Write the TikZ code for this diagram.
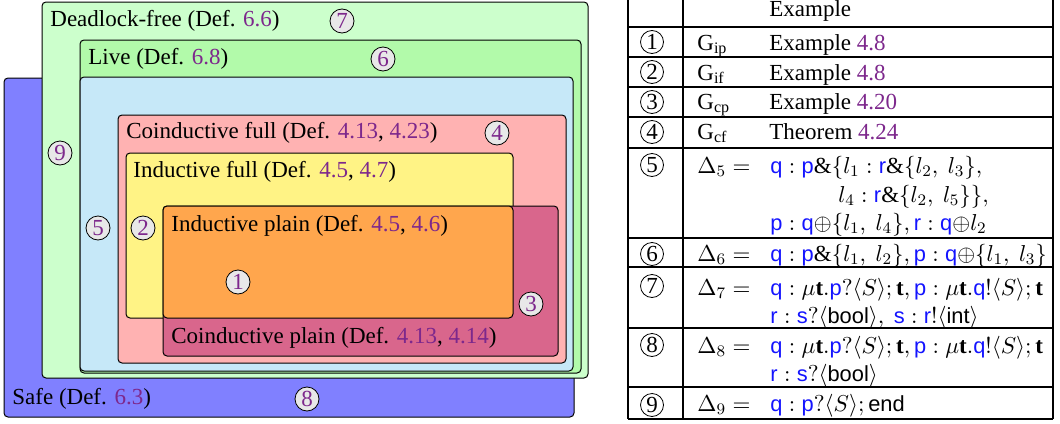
\RequirePackage{fix-cm}
\documentclass[tikz,border=0pt]{standalone}
\usepackage{fontspec}
\setmainfont{Liberation Serif}
\setsansfont[Scale = 0.95]{Liberation Sans}
\usetikzlibrary{positioning}

\definecolor{safeblue}{RGB}{128,128,255}
\definecolor{dlfgreen}{RGB}{204,255,204}
\definecolor{livegreen}{RGB}{178,250,170}
\definecolor{lightsky}{RGB}{198,232,248}
\definecolor{cfpink}{RGB}{255,178,178}
\definecolor{ifyellow}{RGB}{255,243,133}
\definecolor{iporange}{RGB}{255,166,77}
\definecolor{cpmauve}{RGB}{217,102,140}
\definecolor{refpurple}{RGB}{125,40,140}
\definecolor{roleblue}{RGB}{20,20,255}

\newcommand{\dref}[1]{\textcolor{refpurple}{#1}}
\newcommand{\prole}[1]{\textcolor{roleblue}{\textsf{#1}}}

\tikzstyle{region} = [draw, rounded corners = 2pt, line width = 0.5pt]
\tikzstyle{setname} = [anchor = base west, inner sep = 0pt]
\tikzstyle{setnum} = [circle, draw, fill = gray!18, inner sep = 0pt, minimum size = 12pt, text = refpurple]
\tikzstyle{rownum} = [circle, draw, inner sep = 0pt, minimum size = 11.5pt]
\tikzstyle{cell} = [anchor = base west, inner sep = 0pt]

\begin{document}
\begin{tikzpicture}[x = 0.5pt, y = -0.5pt, font = \fontsize{11.5}{14}\selectfont]
        \useasboundingbox (0, 0) rectangle (1060, 423);

        % Regions
        \draw[region, fill = safeblue]  (4, 78)   rectangle (574, 417);
        \draw[region, fill = dlfgreen]  (42, 2)   rectangle (588, 378);
        \draw[region, fill = livegreen] (80, 40)  rectangle (581, 373);
        \draw[region, fill = lightsky]  (80, 77)  rectangle (573, 371);
        \draw[region, fill = cfpink]    (118, 115) rectangle (566, 363);
        \draw[region, fill = ifyellow]  (126, 153) rectangle (513, 318);
        \draw[region, fill = cpmauve]   (163, 206) rectangle (558, 356);
        \draw[region, fill = iporange]  (163, 206) rectangle (513, 318);

        \node (dlf)   at (50, 26)   [setname] {Deadlock-free (Def. \dref{6.6})};
        \node (live)  at (88, 64)   [setname] {Live (Def. \dref{6.8})};
        \node (cfull) at (126, 138) [setname] {Coinductive full (Def. \dref{4.13}, \dref{4.23})};
        \node (ifull) at (133, 177) [setname] {Inductive full (Def. \dref{4.5}, \dref{4.7})};
        \node (iplain) at (171, 231) [setname] {Inductive plain (Def. \dref{4.5}, \dref{4.6})};
        \node (cplain) at (171, 343) [setname] {Coinductive plain (Def. \dref{4.13}, \dref{4.14})};
        \node (safe)  at (12, 404)  [setname] {Safe (Def. \dref{6.3})};

        \node (s1) at (238, 282) [setnum] {1};
        \node (s2) at (143, 228) [setnum] {2};
        \node (s3) at (531, 304) [setnum] {3};
        \node (s4) at (497, 133) [setnum] {4};
        \node (s5) at (98, 228)  [setnum] {5};
        \node (s6) at (383, 59)  [setnum] {6};
        \node (s7) at (342, 21)  [setnum] {7};
        \node (s8) at (307, 399) [setnum] {8};
        \node (s9) at (60, 153)  [setnum] {9};

        % Table
        \foreach \x in {628, 683, 1053}
        {
          \draw[line width = 0.7pt] (\x, 0) -- (\x, 419);
        }
        \foreach \y in {27, 57, 87, 117, 148, 238, 267, 328, 387, 419}
        {
          \draw[line width = 1pt] (628, \y) -- (1053, \y);
        }

        \node (head) at (769, 17) [cell] {Example};

        \node (r1) at (652, 42)  [rownum] {1};
        \node (r2) at (652, 72)  [rownum] {2};
        \node (r3) at (652, 102) [rownum] {3};
        \node (r4) at (652, 132) [rownum] {4};
        \node (r5) at (652, 165) [rownum] {5};
        \node (r6) at (652, 254) [rownum] {6};
        \node (r7) at (652, 286) [rownum] {7};
        \node (r8) at (652, 345) [rownum] {8};
        \node (r9) at (652, 405) [rownum] {9};

        \node (g1) at (697, 50)  [cell] {$\mathrm{G}_{\mathrm{ip}}$};
        \node (g2) at (697, 80)  [cell] {$\mathrm{G}_{\mathrm{if}}$};
        \node (g3) at (697, 109) [cell] {$\mathrm{G}_{\mathrm{cp}}$};
        \node (g4) at (697, 139) [cell] {$\mathrm{G}_{\mathrm{cf}}$};
        \node (e1) at (769, 50)  [cell] {Example \dref{4.8}};
        \node (e2) at (769, 80)  [cell] {Example \dref{4.8}};
        \node (e3) at (769, 109) [cell] {Example \dref{4.20}};
        \node (e4) at (769, 139) [cell] {Theorem \dref{4.24}};

        \node (d5) at (697, 173) [cell] {$\Delta_5 =$};
        \node (d6) at (697, 261) [cell] {$\Delta_6 =$};
        \node (d7) at (697, 295) [cell] {$\Delta_7 =$};
        \node (d8) at (697, 353) [cell] {$\Delta_8 =$};
        \node (d9) at (697, 411) [cell] {$\Delta_9 =$};

        \node (f5a) at (770, 173) [cell] {$\prole{q} : \prole{p}\&\{l_1 : \prole{r}\&\{l_2,\ l_3\},$};
        \node (f5b) at (838, 202) [cell] {$l_4 : \prole{r}\&\{l_2,\ l_5\}\},$};
        \node (f5c) at (770, 230) [cell] {$\prole{p} : \prole{q}{\oplus}\{l_1,\ l_4\}, \prole{r} : \prole{q}{\oplus}l_2$};
        \node (f6)  at (770, 261) [cell] {$\prole{q} : \prole{p}\&\{l_1,\ l_2\}, \prole{p} : \prole{q}{\oplus}\{l_1,\ l_3\}$};
        \node (f7a) at (770, 295) [cell] {$\prole{q} : \mu\mathbf{t}.\prole{p}?\langle S\rangle; \mathbf{t}, \prole{p} : \mu\mathbf{t}.\prole{q}!\langle S\rangle; \mathbf{t}$};
        \node (f7b) at (770, 323) [cell] {$\prole{r} : \prole{s}?\langle\textsf{bool}\rangle,\ \prole{s} : \prole{r}!\langle\textsf{int}\rangle$};
        \node (f8a) at (770, 353) [cell] {$\prole{q} : \mu\mathbf{t}.\prole{p}?\langle S\rangle; \mathbf{t}, \prole{p} : \mu\mathbf{t}.\prole{q}!\langle S\rangle; \mathbf{t}$};
        \node (f8b) at (770, 381) [cell] {$\prole{r} : \prole{s}?\langle\textsf{bool}\rangle$};
        \node (f9)  at (770, 411) [cell] {$\prole{q} : \prole{p}?\langle S\rangle; \textsf{end}$};
\end{tikzpicture}
\end{document}
